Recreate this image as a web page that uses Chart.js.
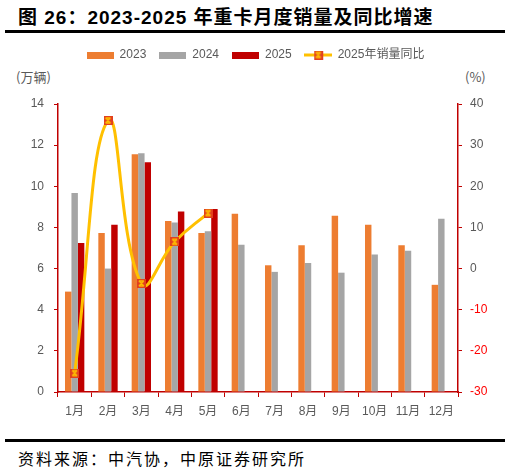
<!DOCTYPE html>
<html>
<head>
<meta charset="utf-8">
<script src="https://cdn.jsdelivr.net/npm/chart.js@4.4.1/dist/chart.umd.min.js"></script>
<style>
body{margin:0;width:511px;height:472px;background:#fff;position:relative;overflow:hidden;font-family:"Noto Sans CJK SC",sans-serif}
#title{position:absolute;left:18px;top:2px;font-family:"Liberation Sans","Noto Sans CJK SC",sans-serif;font-size:19px;font-weight:bold;color:#000;letter-spacing:1px;white-space:nowrap}
.rule{position:absolute;left:5px;width:500px;height:3px;background:#000}
#wrap{position:absolute;left:0;top:36px;width:511px;height:396px}
.unit{position:absolute;top:67px;font-size:13px;color:#595959;white-space:nowrap}
#src{position:absolute;left:18px;top:446px;font-size:16px;letter-spacing:2px;color:#000;white-space:nowrap}
</style>
</head>
<body>
<div id="title">图 26：2023-2025 年重卡月度销量及同比增速</div>
<div class="rule" style="top:30px"></div>
<div class="unit" style="left:16px">(万辆)</div>
<div class="unit" style="left:465px">(%)</div>
<div id="wrap"><canvas id="myChart"></canvas></div>
<div class="rule" style="top:439px"></div>
<div id="src">资料来源：中汽协，中原证券研究所</div>
<script>
// monthly heavy truck sales (10k units)
var months = ["1月","2月","3月","4月","5月","6月","7月","8月","9月","10月","11月","12月"];
var sales2023 = [4.88,7.73,11.56,8.31,7.73,8.67,6.16,7.13,8.57,8.13,7.13,5.21];
var sales2024 = [9.67,6.00,11.60,8.24,7.81,7.16,5.84,6.27,5.80,6.68,6.87,8.42];
var sales2025 = [7.24,8.13,11.17,8.78,8.89,null,null,null,null,null,null,null];
var yoy2025 = [-25.4,36.0,-3.6,6.5,13.5,null,null,null,null,null,null,null];

var ORANGE = "#ED7D31", GRAY = "#A5A5A5", RED = "#C00000", GOLD = "#FFC000";
var AXIS = "#C00000", TEXT = "#595959";

function marker(){
    var c = document.createElement("canvas");
    c.width = 9; c.height = 9;
    var g = c.getContext("2d");
    g.fillStyle = "#E2401E";
    g.fillRect(0,0,9,9);
    g.strokeStyle = GOLD;
    g.lineWidth = 1.3;
    g.beginPath();
    g.moveTo(2,2); g.lineTo(7,7);
    g.moveTo(7,2); g.lineTo(2,7);
    g.moveTo(2,2); g.lineTo(7,2);
    g.moveTo(2,7); g.lineTo(7,7);
    g.stroke();
    return c;
}
function boxIcon(color){
    var c = document.createElement("canvas");
    c.width = 27; c.height = 7;
    var g = c.getContext("2d");
    g.fillStyle = color;
    g.fillRect(0,0,27,7);
    return c;
}
function lineIcon(){
    var c = document.createElement("canvas");
    c.width = 28; c.height = 9;
    var g = c.getContext("2d");
    g.fillStyle = GOLD;
    g.fillRect(0,3,28,3);
    g.drawImage(marker(),9.5,0);
    return c;
}
var legendIcons = [boxIcon(ORANGE), boxIcon(GRAY), boxIcon(RED), lineIcon()];

// push the plot down below the legend, leaves room for the unit labels
var legendGap = {
    id: "legendGap",
    beforeInit: function(chart){
        var fit = chart.legend.fit;
        chart.legend.fit = function(){
            fit.bind(chart.legend)();
            this.height += 33;
        };
    }
};

var chart = new Chart(document.getElementById("myChart").getContext("2d"), {
    type: "bar",
    data: {
        labels: months,
        datasets: [
            {label: "2023", data: sales2023, backgroundColor: ORANGE, yAxisID: "y", order: 1},
            {label: "2024", data: sales2024, backgroundColor: GRAY, yAxisID: "y", order: 1},
            {label: "2025", data: sales2025, backgroundColor: RED, yAxisID: "y", order: 1},
            {
                type: "line",
                label: "2025年销量同比",
                data: yoy2025,
                yAxisID: "y1",
                order: 0,
                borderColor: GOLD,
                borderWidth: 3,
                tension: 0.45,
                pointStyle: marker(),
                pointRadius: 4.5,
                fill: false
            }
        ]
    },
    options: {
        responsive: true,
        maintainAspectRatio: false,
        animation: false,
        layout: {padding: {left: 0, right: 0, top: 0, bottom: 0}},
        datasets: {bar: {barPercentage: 1.0, categoryPercentage: 0.58}},
        plugins: {
            tooltip: {enabled: false},
            legend: {
                position: "top",
                labels: {
                    usePointStyle: true,
                    pointStyleWidth: 27,
                    padding: 13,
                    color: TEXT,
                    font: {size: 12, family: "'Liberation Sans','Noto Sans CJK SC'"},
                    generateLabels: function(chart){
                        return chart.data.datasets.map(function(ds, i){
                            return {text: ds.label, pointStyle: legendIcons[i], fontColor: TEXT,
                                    datasetIndex: i, hidden: false, lineWidth: 0,
                                    strokeStyle: "transparent", fillStyle: "transparent"};
                        });
                    }
                }
            }
        },
        scales: {
            x: {
                offset: true,
                grid: {display: true, drawOnChartArea: false, offset: true, color: AXIS, tickLength: 5},
                border: {color: AXIS, width: 1.5},
                ticks: {color: TEXT, padding: 7, font: {size: 12, family: "'Liberation Sans','Noto Sans CJK SC'"}},
                afterFit: function(scale){ scale.height = 40; }
            },
            y: {
                position: "left",
                min: 0, max: 14,
                grid: {drawOnChartArea: false, color: AXIS, tickLength: 4},
                border: {color: AXIS, width: 1.5},
                ticks: {stepSize: 2, color: TEXT, padding: 10, font: {size: 12, family: "'Liberation Sans'"}},
                afterFit: function(scale){ scale.width = 58; }
            },
            y1: {
                position: "right",
                min: -30, max: 40,
                grid: {drawOnChartArea: false, color: AXIS, tickLength: 4},
                border: {color: AXIS, width: 1.5},
                ticks: {
                    stepSize: 10, padding: 8, font: {size: 12, family: "'Liberation Sans'"},
                    color: function(ctx){ return ctx.tick && ctx.tick.value < 0 ? "#FF0000" : TEXT; }
                },
                afterFit: function(scale){ scale.width = 53; }
            }
        }
    },
    plugins: [legendGap]
});
</script>
</body>
</html>
